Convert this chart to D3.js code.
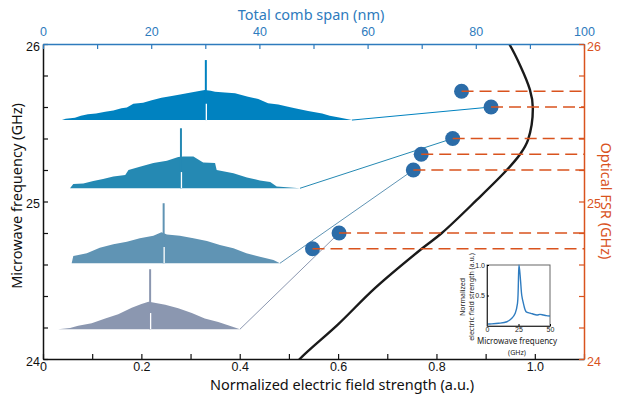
<!DOCTYPE html>
<html>
<head>
<meta charset="utf-8">
<script src="https://cdn.jsdelivr.net/npm/d3@7"></script>
<style>
  body { margin: 0; background: #fff; }
  svg { display: block; font-family: "Noto Sans", "Open Sans", sans-serif; }
</style>
</head>
<body>
<div id="chart"></div>
<script>
// comb spectra: [span position (nm), normalized amplitude]
const comb1 = [[3.5,0],[4.2,0.02],[5.9,0.04],[7.0,0.07],[8.3,0.095],[9.8,0.11],[11.5,0.14],[13.0,0.16],[14.5,0.195],[15.5,0.21],[16.7,0.27],[18.5,0.29],[20.1,0.33],[21.9,0.37],[23.8,0.4],[25.6,0.43],[28.1,0.47],[29.9,0.5],[31.0,0.49],[31.8,0.47],[33.6,0.46],[35.5,0.445],[37.9,0.39],[39.8,0.35],[41.6,0.28],[43.5,0.26],[45.3,0.22],[47.0,0.19],[49.0,0.15],[51.6,0.11],[53.0,0.07],[54.5,0.045],[57.1,0]];
const comb2 = [[5.0,0],[5.6,0.07],[7.45,0.08],[9.3,0.12],[11.1,0.155],[13.0,0.195],[15.2,0.22],[15.8,0.305],[17.9,0.36],[20.4,0.42],[22.9,0.46],[25.0,0.52],[25.9,0.53],[27.8,0.53],[29.6,0.43],[31.8,0.42],[32.1,0.305],[35.2,0.25],[37.7,0.18],[40.1,0.13],[42.0,0.105],[43.2,0.03],[46.3,0.01],[47.5,0]];
const comb3 = [[5.3,0],[5.6,0.12],[8.1,0.165],[10.5,0.26],[13.0,0.315],[15.5,0.36],[17.9,0.415],[20.4,0.46],[21.9,0.515],[22.9,0.48],[25.3,0.46],[27.8,0.415],[30.3,0.37],[32.7,0.305],[35.2,0.25],[37.6,0.165],[40.1,0.11],[42.6,0.055],[43.8,0]];
const comb4 = [[2.8,0],[5.0,0.02],[6.5,0.06],[9.0,0.1],[11.5,0.18],[13.9,0.25],[16.4,0.36],[18.2,0.42],[19.5,0.46],[20.1,0.45],[22.6,0.41],[25.0,0.35],[27.5,0.27],[29.9,0.18],[32.4,0.12],[34.9,0.045],[36.4,0]];
const combs = [comb1, comb2, comb3, comb4];
const combBase = [25.517, 25.084, 24.608, 24.189];   // GHz baseline of each comb
const combPump = [30.1, 25.5, 22.3, 19.8];           // nm position of pump line
const combFsr = [25.6, 25.4, 25.2, 24.8];            // measured point each comb links to
const combField = [0.911, 0.833, 0.753, 0.602];
const combColors = ["#0082c0", "#2589b3", "#6094b4", "#8b97b0"];

// measured points
const dotFsr = [25.7, 25.6, 25.4, 25.3, 25.2, 24.8, 24.7];
const dotField = [0.851, 0.911, 0.833, 0.769, 0.753, 0.602, 0.548];

// microwave resonance curve (frequency GHz, field a.u.)
const curveFreq = [23.9, 24.0, 24.22, 24.45, 24.7, 24.8, 25.01, 25.2, 25.3, 25.39, 25.59, 25.71, 26.0, 26.1];
const curveField = [0.495, 0.522, 0.6, 0.675, 0.77, 0.811, 0.882, 0.943, 0.97, 0.986, 0.996, 0.99, 0.948, 0.925];

// inset spectrum
const insetFreq = [0, 2.1, 9.2, 15.8, 19.7, 22.4, 24.2, 25.4, 26.6, 27.6, 28.9, 31, 34.2, 36, 39.5, 42, 44.7, 47, 50];
const insetField = [0.03, 0.033, 0.044, 0.07, 0.126, 0.21, 0.37, 1.0, 0.75, 0.5, 0.37, 0.235, 0.21, 0.2, 0.18, 0.19, 0.18, 0.17, 0.164];

const bottomTicks = d3.range(0, 1.101, 0.1);
const sideTicks = d3.range(24, 26.01, 0.2);
const topTicks = d3.range(0, 100.1, 10);

const W = 620, H = 397;
const L = 43, R = 584, T = 44, B = 359;
const blue = "#2e7bbd", orange = "#d9531e";

const svg = d3.select("#chart").append("svg").attr("width", W).attr("height", H);

const x = d3.scaleLinear([0, 1.1], [L, R]);
const xTop = d3.scaleLinear([0, 100], [L, R]);
const y = d3.scaleLinear([24, 26], [B, T]);
const ampH = 0.381; // GHz for unit amplitude

svg.append("clipPath").attr("id", "plot")
  .append("rect").attr("x", L).attr("y", T).attr("width", R - L).attr("height", B - T);

// combs
combs.forEach((c, i) => {
  const base = combBase[i];
  const area = d3.area()
    .x(d => xTop(d[0]))
    .y0(y(base))
    .y1(d => y(base + d[1] * ampH));
  svg.append("path").datum(c).attr("d", area).attr("fill", combColors[i]);
  // pump line
  svg.append("line")
    .attr("x1", xTop(combPump[i])).attr("x2", xTop(combPump[i]))
    .attr("y1", y(base)).attr("y2", y(base + ampH))
    .attr("stroke", combColors[i]).attr("stroke-width", 2);
  svg.append("line")
    .attr("x1", xTop(combPump[i]) + 0.5).attr("x2", xTop(combPump[i]) + 0.5)
    .attr("y1", y(base)).attr("y2", y(base + 0.27 * ampH))
    .attr("stroke", "#fff").attr("stroke-width", 1.3);
  // connector
  const end = c[c.length - 1][0];
  svg.append("line")
    .attr("x1", xTop(end)).attr("y1", y(base))
    .attr("x2", x(combField[i])).attr("y2", y(combFsr[i]))
    .attr("stroke", combColors[i]).attr("stroke-width", 1);
});

// resonance curve
const curvePts = curveFreq.map((f, i) => [curveField[i], f]);
svg.append("path").datum(curvePts)
  .attr("clip-path", "url(#plot)")
  .attr("d", d3.line().x(d => x(d[0])).y(d => y(d[1])).curve(d3.curveCatmullRom))
  .attr("fill", "none").attr("stroke", "#1a1a1a").attr("stroke-width", 2.4);

// dots
svg.append("g").selectAll("circle").data(dotFsr).join("circle")
  .attr("cx", (d, i) => x(dotField[i])).attr("cy", d => y(d))
  .attr("r", 7.5).attr("fill", "#2b6ca8");

// dashed lines to FSR axis
svg.append("g").selectAll("line").data(dotFsr).join("line")
  .attr("x1", (d, i) => x(dotField[i])).attr("x2", R)
  .attr("y1", d => y(d)).attr("y2", d => y(d))
  .attr("stroke", orange).attr("stroke-width", 1.6)
  .attr("stroke-dasharray", "12,6");

// axes
const fmtB = d => {
  const r = Math.round(d * 10);
  if (r % 2 !== 0 || r > 10) return "";
  return r === 0 ? "0" : d3.format(".1f")(d);
};
const fmtS = d => {
  const r = Math.round(d * 10);
  return r % 10 === 0 ? String(r / 10) : "";
};
const fmtT = d => (Math.round(d) % 20 === 0 ? String(Math.round(d)) : "");

function styleAxis(g, color) {
  g.select(".domain").attr("stroke", color).attr("stroke-width", 1.5);
  g.selectAll(".tick line").attr("stroke", color).attr("stroke-width", 1.2);
  g.selectAll(".tick text").attr("fill", color).attr("font-size", 12.5);
}

svg.append("g").attr("transform", `translate(0,${B})`)
  .call(d3.axisBottom(x).tickValues(bottomTicks).tickFormat(fmtB).tickSizeInner(-5).tickSizeOuter(0).tickPadding(3))
  .call(styleAxis, "#111");

svg.append("g").attr("transform", `translate(${L},0)`)
  .call(d3.axisLeft(y).tickValues(sideTicks).tickFormat(fmtS).tickSizeInner(-5).tickSizeOuter(0).tickPadding(3))
  .call(styleAxis, "#111")
  .call(g => g.selectAll(".tick text").attr("dy", "0.48em"));

svg.append("g").attr("transform", `translate(0,${T})`)
  .call(d3.axisTop(xTop).tickValues(topTicks).tickFormat(fmtT).tickSizeInner(-5).tickSizeOuter(0).tickPadding(8))
  .call(styleAxis, blue);

svg.append("g").attr("transform", `translate(${R},0)`)
  .call(d3.axisRight(y).tickValues(sideTicks).tickFormat(fmtS).tickSizeInner(-5).tickSizeOuter(0).tickPadding(3))
  .call(styleAxis, orange)
  .call(g => g.selectAll(".tick text").attr("dy", "0.48em"));

// titles
svg.append("text").attr("x", 311).attr("y", 20).attr("text-anchor", "middle")
  .attr("font-size", 14.5).attr("fill", blue).text("Total comb span (nm)");
svg.append("text").attr("x", 342).attr("y", 390).attr("text-anchor", "middle")
  .attr("font-size", 14.5).attr("fill", "#111").text("Normalized electric field strength  (a.u.)");
svg.append("text").attr("transform", "translate(22,196) rotate(-90)").attr("text-anchor", "middle")
  .attr("font-size", 14.5).attr("fill", "#111").text("Microwave  frequency (GHz)");
svg.append("text").attr("transform", "translate(601,201) rotate(90)").attr("text-anchor", "middle")
  .attr("font-size", 14.5).attr("fill", orange).text("Optical FSR (GHz)");

// inset
const ix = d3.scaleLinear([0, 50], [487, 550]);
const iy = d3.scaleLinear([0, 1], [326, 265]);
const inset = svg.append("g");
inset.append("rect").attr("x", 487).attr("y", 265).attr("width", 63).attr("height", 61)
  .attr("fill", "#fff").attr("stroke", "#666").attr("stroke-width", 1);
inset.append("path").datum(insetFreq.map((f, i) => [f, insetField[i]]))
  .attr("d", d3.line().x(d => ix(d[0])).y(d => iy(d[1])).curve(d3.curveCatmullRom))
  .attr("fill", "none").attr("stroke", "#2f7cc0").attr("stroke-width", 1.4);
inset.append("g").attr("transform", "translate(0,326)")
  .call(d3.axisBottom(ix).tickValues([0, 25, 50]).tickSizeInner(-2).tickSizeOuter(0).tickPadding(1))
  .call(g => {
    g.select(".domain").attr("stroke", "#333");
    g.selectAll(".tick text").attr("font-size", 7).attr("fill", "#222");
  });
inset.append("g").attr("transform", "translate(487,0)")
  .call(d3.axisLeft(iy).tickValues([0.5, 1]).tickFormat(d3.format(".1f")).tickSizeInner(-2).tickSizeOuter(0).tickPadding(2))
  .call(g => {
    g.select(".domain").attr("stroke", "#333");
    g.selectAll(".tick text").attr("font-size", 7).attr("fill", "#222");
  });
inset.append("text").attr("transform", "translate(465,297) rotate(-90)").attr("text-anchor", "middle")
  .attr("font-size", 7).attr("fill", "#222").text("Normalized");
inset.append("text").attr("transform", "translate(474,297) rotate(-90)").attr("text-anchor", "middle")
  .attr("font-size", 7).attr("fill", "#222").text("electric field strength  (a.u.)");
inset.append("text").attr("x", 517).attr("y", 344).attr("text-anchor", "middle")
  .attr("font-size", 8).attr("fill", "#222").text("Microwave  frequency");
inset.append("text").attr("x", 517).attr("y", 355).attr("text-anchor", "middle")
  .attr("font-size", 7).attr("fill", "#222").text("(GHz)");
</script>
</body>
</html>
